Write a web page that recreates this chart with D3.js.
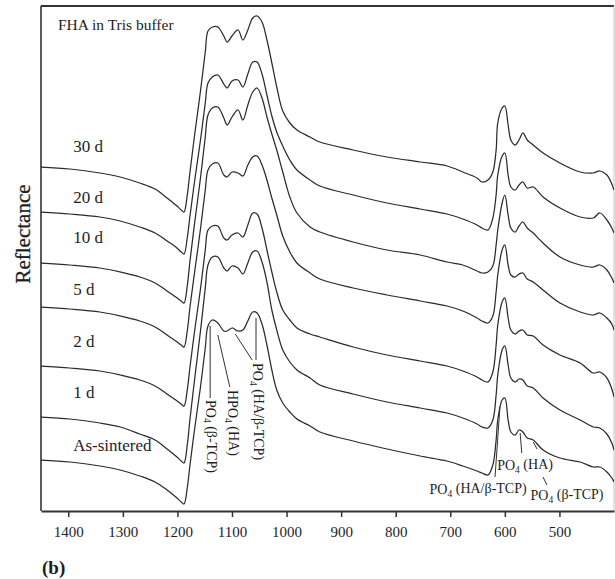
<!DOCTYPE html>
<html>
<head>
<meta charset="utf-8">
<script src="https://cdn.jsdelivr.net/npm/d3@7"></script>
<style>
  html, body { margin: 0; padding: 0; background: #fff; }
  svg { display: block; }
  text { font-family: "Liberation Serif", "Times New Roman", serif; fill: #1e1e1e; }
</style>
</head>
<body>
<svg id="chart" width="615" height="579"></svg>
<script>
// Wavenumber grid (cm^-1) shared by all spectra
const wavenumbers = [1450,1397,1342,1305,1269,1241,1219,1203,1193,1188,1182,1177,1168,1158,1149,1144,1136,1126,1115,1109,1100,1089,1080,1071,1062,1054,1045,1036,1027,1018,1007,994,981,957,939,878,816,755,706,677,651,642,631,622,616,613,605,600,594,589,581,574,567,559,548,530,499,462,438,426,413,404,400];

// Sample names, top spectrum first
const sampleNames = ["30 d", "20 d", "10 d", "5 d", "2 d", "1 d", "As-sintered"];

// Reflectance (arbitrary units, spectra stacked with offsets)
const r30d = [344,342,338,334,328,322,313,306,301,299,316,339,378,419,459,480,484,484,475,469,475,481,471,481,493,495,489,471,448,424,400,388,381,374,369,361,354,349,345,339,333,329,331,339,361,388,403,405,386,371,366,371,378,371,366,358,348,339,338,340,336,327,321];
const r20d = [299,297,294,290,284,278,270,264,259,257,273,295,332,370,408,428,434,436,427,423,430,431,424,437,449,449,437,416,395,379,365,351,341,331,325,316,308,302,297,292,286,283,281,293,316,336,355,358,336,324,321,326,329,323,324,314,303,294,293,298,291,283,278];
const r10d = [248,246,243,239,234,228,220,214,210,208,225,250,290,332,374,396,403,404,393,386,394,401,391,406,419,423,413,394,377,361,339,314,298,284,279,269,261,256,249,246,240,238,239,245,266,281,308,316,296,283,279,285,289,283,278,268,254,246,244,246,241,233,228];
const r5d = [204,202,199,195,190,184,176,170,166,164,180,204,241,281,321,341,347,348,336,334,339,338,335,346,354,355,346,331,313,296,275,259,248,238,232,223,216,210,205,200,193,190,188,195,219,236,261,266,246,236,234,237,238,232,229,221,208,199,196,198,193,187,181];
const r2d = [145,143,140,136,131,125,117,111,107,105,121,144,182,221,261,281,285,285,273,271,276,278,274,286,298,297,283,261,239,219,201,191,183,177,174,164,156,150,145,140,134,131,129,139,166,186,209,213,193,181,177,180,181,176,175,166,156,148,138,139,133,122,114];
const r1d = [94,92,88,84,77,71,62,55,50,48,66,92,134,179,223,246,254,254,243,240,245,243,237,248,259,260,249,229,201,181,161,149,141,133,126,117,109,103,98,93,87,84,83,91,116,136,161,165,146,133,129,132,131,125,123,113,101,91,84,83,77,68,61];
const rAsSintered = [51,49,45,41,35,29,21,14,9,7,23,46,84,123,163,185,191,188,180,180,183,180,181,190,199,198,187,166,141,121,108,99,92,85,79,70,62,55,50,45,40,38,36,46,71,91,111,113,91,79,76,81,79,73,71,61,53,49,44,44,39,33,29];

const spectra = [r30d, r20d, r10d, r5d, r2d, r1d, rAsSintered];

// Axis ticks
const xTicks = [1400, 1300, 1200, 1100, 1000, 900, 800, 700, 600, 500];

// Layout
const plot = { left: 41, right: 614, top: 6, bottom: 511 };
const labelWavenumber = 1391;
const labelLevels = [359, 308, 268, 216, 164, 113, 60];

const svg = d3.select("#chart");

const x = d3.scaleLinear().domain([1450, 400]).range([plot.left, plot.right]);
const y = d3.scaleLinear().domain([0, 505]).range([plot.bottom, plot.top]);

svg.append("defs").append("clipPath").attr("id", "plotClip")
  .append("rect")
  .attr("x", plot.left).attr("y", plot.top)
  .attr("width", plot.right - plot.left).attr("height", plot.bottom - plot.top);

// Frame
svg.append("line")
  .attr("x1", plot.left).attr("x2", plot.right)
  .attr("y1", plot.top).attr("y2", plot.top)
  .attr("stroke", "#333").attr("stroke-width", 1.8);
svg.append("line")
  .attr("x1", plot.left).attr("x2", plot.left)
  .attr("y1", plot.top).attr("y2", plot.bottom)
  .attr("stroke", "#333").attr("stroke-width", 1.6);
svg.append("line")
  .attr("x1", plot.right).attr("x2", plot.right)
  .attr("y1", plot.top).attr("y2", plot.bottom)
  .attr("stroke", "#c4c4c4").attr("stroke-width", 1);

// Spectra
const line = d3.line()
  .x((d, i) => x(wavenumbers[i]))
  .y(d => y(d))
  .curve(d3.curveCatmullRom.alpha(0.5));

svg.append("g").attr("clip-path", "url(#plotClip)")
  .selectAll("path")
  .data(spectra)
  .join("path")
  .attr("d", line)
  .attr("fill", "none")
  .attr("stroke", "#2b2b2b")
  .attr("stroke-width", 1.25)
  .attr("stroke-linejoin", "round");

// Bottom axis
const axis = svg.append("g")
  .attr("transform", `translate(0,${plot.bottom})`)
  .call(d3.axisBottom(x).tickValues(xTicks).tickSize(6).tickSizeOuter(0).tickPadding(9).tickFormat(d3.format("d")));
axis.select(".domain").attr("stroke", "#333").attr("stroke-width", 1.8);
axis.selectAll(".tick line").attr("stroke", "#333").attr("stroke-width", 1.5);
axis.selectAll(".tick text")
  .attr("font-family", "Liberation Serif, Times New Roman, serif")
  .attr("font-size", 15)
  .attr("fill", "#1e1e1e");

// Sample labels
svg.append("g").selectAll("text")
  .data(sampleNames)
  .join("text")
  .attr("x", x(labelWavenumber))
  .attr("y", (d, i) => y(labelLevels[i]))
  .attr("font-size", 17)
  .text(d => d);

// Title inside the frame
svg.append("text")
  .attr("x", 58).attr("y", 30)
  .attr("font-size", 15.5)
  .text("FHA in Tris buffer");

// Y-axis title
svg.append("text")
  .attr("transform", "translate(30,234) rotate(-90)")
  .attr("text-anchor", "middle")
  .attr("font-size", 21)
  .attr("stroke", "#1e1e1e").attr("stroke-width", 0.3)
  .text("Reflectance");

// Panel letter
svg.append("text")
  .attr("x", 42).attr("y", 574)
  .attr("font-family", "Liberation Sans, Arial, sans-serif")
  .attr("font-weight", "bold")
  .attr("font-size", 19)
  .attr("fill", "#2a2a2a")
  .text("(b)");

// Band assignment pointers
const pointerSegments = [
  [[1140, 185], [1140, 113]],
  [[1126, 176], [1104, 124]],
  [[1056, 193], [1056, 151]],
  [[1094, 177], [1063, 151]],
  [[618, 34], [609, 104]],
  [[572, 78], [569, 58]],
  [[548, 69], [541, 62]],
  [[530, 34], [523, 26]]
];
svg.append("g").selectAll("line")
  .data(pointerSegments)
  .join("line")
  .attr("x1", d => x(d[0][0])).attr("y1", d => y(d[0][1]))
  .attr("x2", d => x(d[1][0])).attr("y2", d => y(d[1][1]))
  .attr("stroke", "#333").attr("stroke-width", 1);

// Band labels: [prefix, subscript, rest]
function bandLabel(sel, parts) {
  sel.append("tspan").text(parts[0]);
  sel.append("tspan").attr("font-size", "0.68em").attr("dy", "0.28em").text(parts[1]);
  sel.append("tspan").attr("dy", "-0.28em").text(parts[2]);
}

const verticalBands = [
  { wn: 1139, v: 111, parts: ["PO", "4", " (\u03B2-TCP)"] },
  { wn: 1100, v: 121, parts: ["HPO", "4", " (HA)"] },
  { wn: 1054, v: 148, parts: ["PO", "4", " (HA/\u03B2-TCP)"] }
];
verticalBands.forEach(b => {
  const t = svg.append("text")
    .attr("transform", `translate(${x(b.wn) - 4.5},${y(b.v)}) rotate(90)`)
    .attr("font-size", 14);
  bandLabel(t, b.parts);
});

const horizontalBands = [
  { wn: 649, v: 17, parts: ["PO", "4", " (HA/\u03B2-TCP)"] },
  { wn: 563, v: 41, parts: ["PO", "4", " (HA)"] },
  { wn: 486, v: 11, parts: ["PO", "4", " (\u03B2-TCP)"] }
];
horizontalBands.forEach(b => {
  const t = svg.append("text")
    .attr("x", x(b.wn)).attr("y", y(b.v))
    .attr("text-anchor", "middle")
    .attr("font-size", 14);
  bandLabel(t, b.parts);
});
</script>
</body>
</html>
